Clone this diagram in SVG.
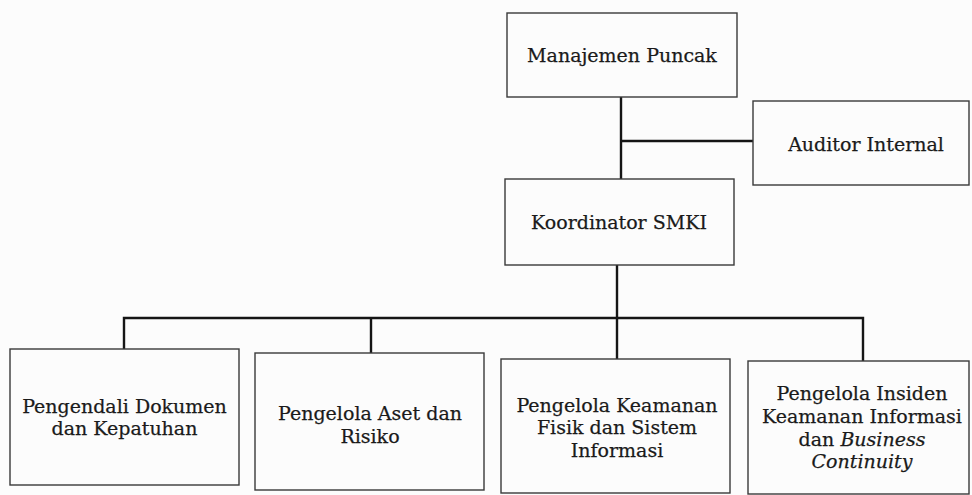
<svg xmlns="http://www.w3.org/2000/svg" width="972" height="495" viewBox="0 0 972 495">
<style>
.box{fill:#fcfcfc;stroke:#3a3a3a;stroke-width:1.4}
.t{font-family:"DejaVu Serif","Liberation Serif",serif;font-size:19px;fill:#1a1a1a;stroke:#1a1a1a;stroke-width:0.25;text-anchor:middle}
.c{fill:none;stroke:#151515;stroke-width:2.4}
</style>
<rect width="972" height="495" fill="#fcfcfc"/>
<g id="connectors">
<path class="c" d="M621 97V180"/>
<path class="c" d="M621 141H753"/>
<path class="c" d="M617 265V319"/>
<path class="c" d="M124 350V318H863V362"/>
<path class="c" d="M371 318V353"/>
<path class="c" d="M617 318V359"/>
</g>
<g id="manajemen">
<rect class="box" x="507" y="13" width="230" height="84"/>
<text class="t" x="622" y="62">Manajemen Puncak</text>
</g>
<g id="auditor">
<rect class="box" x="753" y="101" width="216" height="84"/>
<text class="t" x="866" y="151">Auditor Internal</text>
</g>
<g id="koordinator">
<rect class="box" x="505" y="179" width="229" height="86"/>
<text class="t" x="619" y="229">Koordinator SMKI</text>
</g>
<g id="pengendali">
<rect class="box" x="10" y="349" width="229" height="136"/>
<text class="t" x="124.5" y="413">Pengendali Dokumen</text>
<text class="t" x="124.5" y="435">dan Kepatuhan</text>
</g>
<g id="aset">
<rect class="box" x="255" y="353" width="229" height="137"/>
<text class="t" x="370" y="420">Pengelola Aset dan</text>
<text class="t" x="370" y="443">Risiko</text>
</g>
<g id="keamanan">
<rect class="box" x="501" y="359" width="229" height="134"/>
<text class="t" x="617" y="412">Pengelola Keamanan</text>
<text class="t" x="617" y="434">Fisik dan Sistem</text>
<text class="t" x="617" y="457">Informasi</text>
</g>
<g id="insiden">
<rect class="box" x="748" y="361" width="221" height="133"/>
<text class="t" x="862" y="400">Pengelola Insiden</text>
<text class="t" x="862" y="423">Keamanan Informasi</text>
<text class="t" x="862" y="446">dan <tspan font-style="italic">Business</tspan></text>
<text class="t" x="862" y="468" font-style="italic">Continuity</text>
</g>
</svg>
